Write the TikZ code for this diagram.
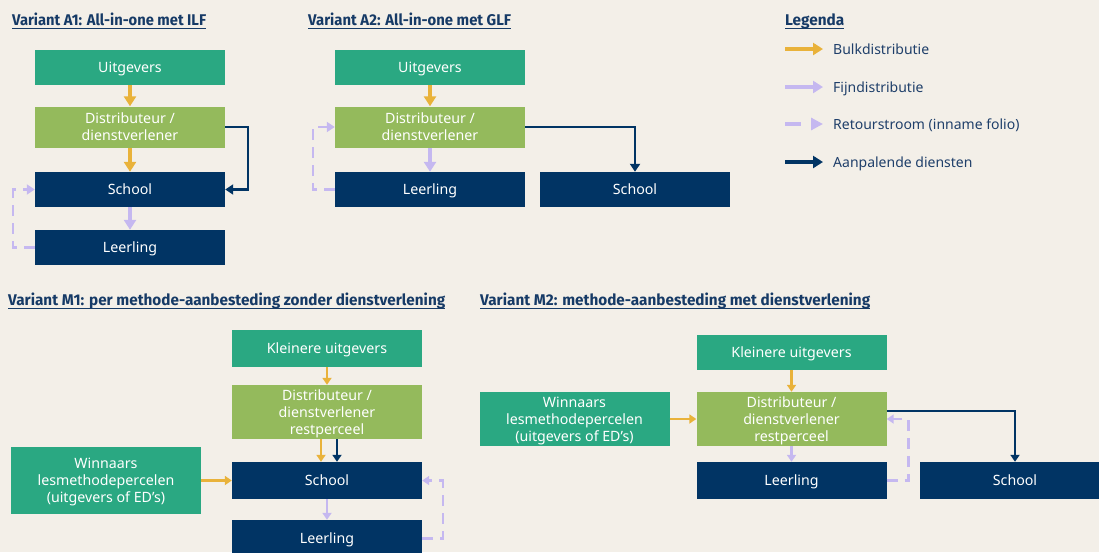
\documentclass[tikz,border=0pt]{standalone}
\usepackage{fontspec}
\usepackage{graphicx}
\setmainfont{Noto Sans}
\newfontfamily\headfont{Fira Sans}
\usetikzlibrary{arrows.meta}

\definecolor{cbg}{HTML}{F3EFE8}
\definecolor{cteal}{HTML}{2AA882}
\definecolor{cgreen}{HTML}{94BA5C}
\definecolor{cnavy}{HTML}{013464}
\definecolor{cyellow}{HTML}{E9B23A}
\definecolor{clav}{HTML}{C5B8F0}
\definecolor{chead}{HTML}{163A66}
\definecolor{clegtext}{HTML}{1F3F6A}

\newcommand{\headtext}[2]{\resizebox{#1}{\height}{\headfont\bfseries\fontsize{15.5}{18}\selectfont #2}}

\tikzset{
  box/.style={rectangle, minimum width=190pt, inner sep=0pt, align=center,
    text=white, text depth=0pt, font=\fontsize{14.2}{17}\selectfont},
  pubbox/.style={box, fill=cteal},
  distbox/.style={box, fill=cgreen},
  userbox/.style={box, fill=cnavy},
  heading/.style={inner sep=0pt, anchor=base west, text=chead},
  headline/.style={draw=chead, line width=1.2pt},
  legtext/.style={inner sep=0pt, anchor=west, text=clegtext, text depth=0pt,
    font=\fontsize{14}{17}\selectfont},
  % flows in the upper variants
  bulk/.style={draw=cyellow, line width=3.5pt, -{Triangle[length=10pt,width=12pt]}},
  fine/.style={draw=clav, line width=3.5pt, -{Triangle[length=10pt,width=12pt]}},
  service/.style={draw=cnavy, line width=2.5pt, -{Triangle[length=8pt,width=10pt]}},
  retour/.style={draw=clav, line width=2.5pt, dash pattern=on 11pt off 7pt,
    -{Triangle[length=8pt,width=10pt]}},
  % flows in the lower variants
  bulkm/.style={draw=cyellow, line width=2.5pt, -{Triangle[length=7pt,width=9pt]}},
  finem/.style={draw=clav, line width=2.5pt, -{Triangle[length=7pt,width=9pt]}},
  servicem/.style={draw=cnavy, line width=2pt, -{Triangle[length=7pt,width=9pt]}},
  retourm/.style={draw=clav, line width=2.5pt, dash pattern=on 11pt off 7pt,
    -{Triangle[length=7pt,width=9pt]}},
}

\begin{document}
\begin{tikzpicture}[x=1pt,y=-1pt]
\useasboundingbox (0,0) rectangle (1099,552);
\fill[cbg] (0,0) rectangle (1099,552);

% ---------- Variant A1 ----------
\node[heading] (t1) at (12,25.5) {\headtext{194pt}{Variant A1: All-in-one met ILF}};
\draw[headline] ([yshift=-3pt]t1.base west) -- ([yshift=-3pt]t1.base east);
\node[pubbox, minimum height=35pt] (a1u) at (130,67.5) {Uitgevers};
\node[distbox, minimum height=41pt] (a1d) at (130,127) {Distributeur /\\dienstverlener};
\node[userbox, minimum height=35pt] (a1s) at (130,189.5) {School};
\node[userbox, minimum height=35pt] (a1l) at (130,247.5) {Leerling};
\draw[bulk] (a1u) -- (a1d);
\draw[bulk] (a1d) -- (a1s);
\draw[fine] (a1s) -- (a1l);
\draw[service] (a1d.east) -- ++(23,0) |- (a1s.east);
\draw[retour] (a1l.west) -- ++(-22,0) |- (a1s.west);

% ---------- Variant A2 ----------
\node[heading] (t2) at (308,25.5) {\headtext{203pt}{Variant A2: All-in-one met GLF}};
\draw[headline] ([yshift=-3pt]t2.base west) -- ([yshift=-3pt]t2.base east);
\node[pubbox, minimum height=35pt] (a2u) at (430,67.5) {Uitgevers};
\node[distbox, minimum height=41pt] (a2d) at (430,127) {Distributeur /\\dienstverlener};
\node[userbox, minimum height=35pt] (a2l) at (430,189.5) {Leerling};
\node[userbox, minimum height=35pt] (a2s) at (635,189.5) {School};
\draw[bulk] (a2u) -- (a2d);
\draw[fine] (a2d) -- (a2l);
\draw[service] (a2d.east) -| (a2s.north);
\draw[retour] (a2l.west) -- ++(-22,0) |- (a2d.west);

% ---------- Legend ----------
\node[heading] (tl) at (785,25.5) {\headtext{59pt}{Legenda}};
\draw[headline] ([yshift=-3pt]tl.base west) -- ([yshift=-3pt]tl.base east);
\coordinate (k1a) at (785,49);  \coordinate (k1b) at (823,49);
\coordinate (k2a) at (785,87);  \coordinate (k2b) at (823,87);
\coordinate (k3a) at (785,124); \coordinate (k3b) at (823,124);
\coordinate (k4a) at (785,162); \coordinate (k4b) at (823,162);
\draw[bulk] (k1a) -- (k1b);
\draw[fine] (k2a) -- (k2b);
\draw[draw=clav, line width=3.5pt, dash pattern=on 16pt off 10pt,
  -{Triangle[length=12pt,width=12pt]}] (k3a) -- (k3b);
\draw[draw=cnavy, line width=3.5pt, -{Triangle[length=10pt,width=12pt]}] (k4a) -- (k4b);
\node[legtext] (l1) at (833,49) {Bulkdistributie};
\node[legtext] (l2) at (833,87) {Fijndistributie};
\node[legtext] (l3) at (833,124) {Retourstroom (inname folio)};
\node[legtext] (l4) at (833,162) {Aanpalende diensten};

% ---------- Variant M1 ----------
\node[heading] (t3) at (8,305.5) {\headtext{437pt}{Variant M1: per methode-aanbesteding zonder dienstverlening}};
\draw[headline] ([yshift=-3pt]t3.base west) -- ([yshift=-3pt]t3.base east);
\node[pubbox, minimum height=37pt] (m1k) at (327,348.5) {Kleinere uitgevers};
\node[distbox, minimum height=54pt] (m1d) at (327,412) {Distributeur /\\dienstverlener\\restperceel};
\node[userbox, minimum height=37pt] (m1s) at (327,480.5) {School};
\node[userbox, minimum height=37pt] (m1l) at (327,538.5) {Leerling};
\node[pubbox, minimum height=67pt] (m1w) at (106,480.5) {Winnaars\\lesmethodepercelen\\(uitgevers of ED’s)};
\draw[bulkm] (m1k) -- (m1d);
\draw[bulkm] ([xshift=-6pt]m1d.south) -- ([xshift=-6pt]m1s.north);
\draw[servicem] ([xshift=10pt]m1d.south) -- ([xshift=10pt]m1s.north);
\draw[bulkm] (m1w) -- (m1s);
\draw[finem] (m1s) -- (m1l);
\draw[retourm] (m1l.east) -- ++(21,0) |- (m1s.east);

% ---------- Variant M2 ----------
\node[heading] (t4) at (480,305.5) {\headtext{390pt}{Variant M2: methode-aanbesteding met dienstverlening}};
\draw[headline] ([yshift=-3pt]t4.base west) -- ([yshift=-3pt]t4.base east);
\node[pubbox, minimum height=35pt] (m2k) at (791.5,352.5) {Kleinere uitgevers};
\node[distbox, minimum height=54pt] (m2d) at (791.5,419) {Distributeur /\\dienstverlener\\restperceel};
\node[pubbox, minimum height=54pt] (m2w) at (574.5,419) {Winnaars\\lesmethodepercelen\\(uitgevers of ED’s)};
\node[userbox, minimum height=37pt] (m2l) at (791.5,480.5) {Leerling};
\node[userbox, minimum height=37pt] (m2s) at (1015,480.5) {School};
\draw[bulkm] (m2k) -- (m2d);
\draw[bulkm] (m2w) -- (m2d);
\draw[finem] (m2d) -- (m2l);
\draw[servicem] ([yshift=8pt]m2d.east) -| (m2s.north);
\draw[retourm] (m2l.east) -- ++(22,0) |- (m2d.east);
\end{tikzpicture}
\end{document}
